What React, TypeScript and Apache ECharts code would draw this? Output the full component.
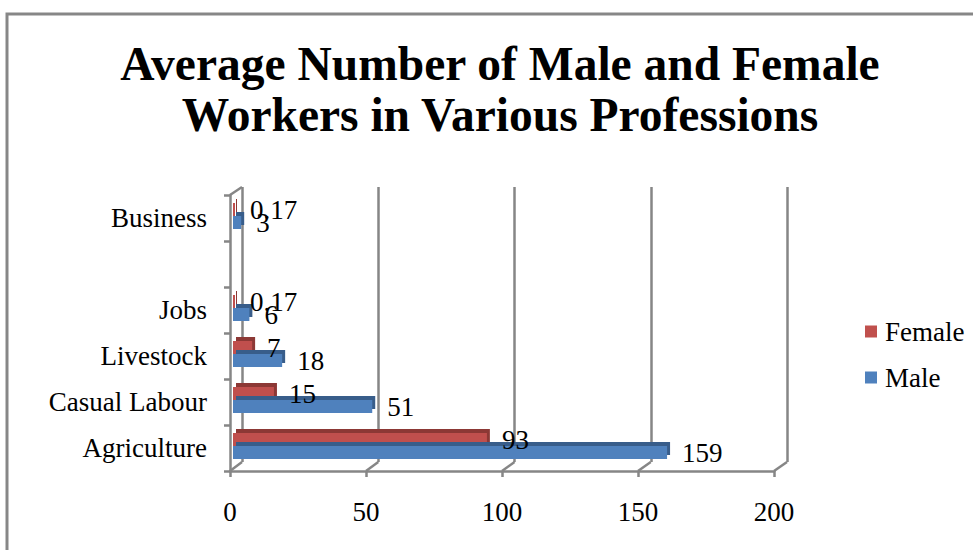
import React, { useEffect, useRef } from "react";
import * as echarts from "echarts";

const titleLines = ["Average Number of Male and Female", "Workers in Various Professions"];
const categories = ["Agriculture", "Casual Labour", "Livestock", "Jobs", "", "Business"];
const femaleValues = [93, 15, 7, 0.17, null, 0.17];
const maleValues = [159, 51, 18, 6, null, 3];
const xTicks = [0, 50, 100, 150, 200];

const FONT = "'Liberation Serif', 'Times New Roman', serif";
const GRAY = "#868686";
const FS = 27;

// layout
const FRONT = { left: 230, top: 195, width: 544, height: 276 };
const BACK = { left: 242, top: 187, width: 545, height: 275 };
const BARS = { left: 233, top: 193, width: 546, height: 276 };

export default function App() {
  const ref = useRef<HTMLDivElement>(null);
  useEffect(() => {
    if (!ref.current) return;
    const chart = echarts.init(ref.current, null, { renderer: "svg" });
    const labelStyle = {
      show: true,
      position: "right",
      distance: 15,
      fontFamily: FONT,
      fontSize: FS,
      color: "#000",
      formatter: (p: any) => (p.value == null ? "" : String(p.value)),
    };
    const option: any = {
      animation: false,
      backgroundColor: "#fff",
      grid: [
        { ...FRONT, containLabel: false },
        { ...BACK, containLabel: false },
        { ...BARS, containLabel: false },
      ],
      xAxis: [
        {
          gridIndex: 0,
          type: "value",
          min: 0,
          max: 200,
          interval: 50,
          axisLine: { show: true, lineStyle: { color: GRAY, width: 2.5 } },
          axisTick: { show: true, length: 6, lineStyle: { color: GRAY, width: 2.5 } },
          splitLine: { show: false },
          axisLabel: { fontFamily: FONT, fontSize: FS, color: "#000", margin: 27 },
        },
        {
          gridIndex: 1,
          type: "value",
          min: 0,
          max: 200,
          interval: 50,
          axisLine: { show: false },
          axisTick: { show: false },
          axisLabel: { show: false },
          splitLine: { show: true, lineStyle: { color: GRAY, width: 2.5 } },
        },
        {
          gridIndex: 2,
          type: "value",
          min: 0,
          max: 200,
          interval: 50,
          show: false,
        },
      ],
      yAxis: [
        {
          gridIndex: 0,
          type: "category",
          data: categories,
          axisLine: { show: true, lineStyle: { color: GRAY, width: 2.5 } },
          axisTick: { show: true, length: 6, lineStyle: { color: GRAY, width: 2.5 } },
          axisLabel: { fontFamily: FONT, fontSize: FS, color: "#000", margin: 23 },
        },
        {
          gridIndex: 1,
          type: "category",
          data: categories,
          show: false,
        },
        {
          gridIndex: 2,
          type: "category",
          data: categories,
          show: false,
        },
      ],
      legend: {
        orient: "vertical",
        left: 865,
        top: 318,
        padding: 0,
        itemWidth: 12,
        itemHeight: 12,
        itemGap: 19,
        icon: "rect",
        data: ["Female", "Male"],
        textStyle: { fontFamily: FONT, fontSize: FS, color: "#000", padding: [0, 0, 0, 3] },
      },
      series: [
        {
          name: "Female",
          type: "bar",
          xAxisIndex: 2,
          yAxisIndex: 2,
          data: femaleValues,
          barWidth: 13,
          barGap: "0%",
          barMinHeight: 2,
          itemStyle: {
            color: "#C0504D",
            shadowColor: "#8C3836",
            shadowOffsetX: 3,
            shadowOffsetY: -4,
            shadowBlur: 0,
          },
          label: labelStyle,
        },
        {
          name: "Male",
          type: "bar",
          xAxisIndex: 2,
          yAxisIndex: 2,
          data: maleValues,
          barWidth: 13,
          barGap: "0%",
          itemStyle: {
            color: "#4F81BD",
            shadowColor: "#385D8A",
            shadowOffsetX: 3,
            shadowOffsetY: -4,
            shadowBlur: 0,
          },
          label: labelStyle,
        },
      ],
    };
    chart.setOption(option);

    const frontBottom = FRONT.top + FRONT.height;
    const backBottom = BACK.top + BACK.height;
    const decor: any[] = [];
    xTicks.forEach((v) => {
      const fx = chart.convertToPixel({ xAxisIndex: 0 }, v) as number;
      const bx = chart.convertToPixel({ xAxisIndex: 1 }, v) as number;
      decor.push({
        type: "line",
        shape: { x1: fx, y1: frontBottom, x2: bx, y2: backBottom },
        style: { stroke: GRAY, lineWidth: 2.5 },
        silent: true,
      });
    });
    decor.push({
      type: "line",
      shape: { x1: FRONT.left, y1: FRONT.top, x2: BACK.left, y2: BACK.top },
      style: { stroke: GRAY, lineWidth: 2.5 },
      silent: true,
    });
    titleLines.forEach((t, i) => {
      decor.push({
        type: "text",
        x: 500,
        y: 64 + i * 51,
        style: {
          text: t,
          fontFamily: FONT,
          fontSize: 47.5,
          fontWeight: "bold",
          fill: "#000",
          textAlign: "center",
          textVerticalAlign: "middle",
          align: "center",
          verticalAlign: "middle",
        },
      });
    });
    decor.push({
      type: "rect",
      shape: { x: 7, y: 14, width: 2000, height: 2000 },
      style: { fill: "none", stroke: "#878787", lineWidth: 3 },
      silent: true,
    });
    chart.setOption({ graphic: { elements: decor } });

    return () => chart.dispose();
  }, []);
  return (
    <div
      ref={ref}
      style={{ position: "fixed", left: 0, top: 0, width: 973, height: 550 }}
    />
  );
}
